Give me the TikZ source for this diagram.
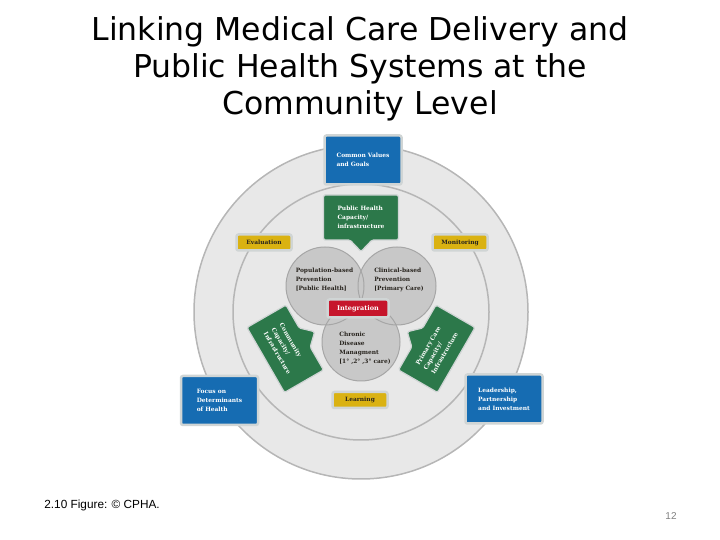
\documentclass[tikz,border=0pt]{standalone}
\usepackage{fontspec}
\setmainfont{DejaVu Serif}
\newfontfamily\titlefont{DejaVu Sans}
\newfontfamily\notefont{Liberation Sans}
\usetikzlibrary{positioning}

\definecolor{cphablue}{RGB}{22,108,178}
\definecolor{cphagreen}{RGB}{44,120,74}
\definecolor{cphayellow}{RGB}{218,178,18}
\definecolor{cphared}{RGB}{198,22,44}
\definecolor{diskgray}{RGB}{232,232,232}
\definecolor{ringgray}{RGB}{182,182,182}
\definecolor{venngray}{RGB}{200,200,200}
\definecolor{vennrim}{RGB}{166,166,166}
\definecolor{rimgray}{RGB}{208,213,213}
\definecolor{inkdark}{RGB}{40,36,30}

\tikzset{
 boxfont/.style={font=\fontsize{5.9}{9}\selectfont\bfseries},
 box/.style={boxfont, rounded corners=2pt, draw=rimgray, line width=2.5pt, align=left, inner sep=0pt},
 bluebox/.style={box, fill=cphablue, text=white, minimum width=77pt, minimum height=49pt},
 yellowbox/.style={box, fill=cphayellow, text=inkdark, minimum width=55pt, minimum height=16pt},
 venntext/.style={boxfont, text=inkdark, align=left, inner sep=0pt},
 tabtext/.style={boxfont, text=white, align=left, inner sep=0pt},
 pics/tab/.style={code={
  \filldraw[fill=cphagreen, draw=rimgray, line width=1.2pt, rounded corners=1.5pt]
   (-37.5,22.5) -- (37.5,22.5) -- (37.5,-22.5) -- (11,-22.5) -- (0,-34) -- (-11,-22.5) -- (-37.5,-22.5) -- cycle;
 }}
}

\begin{document}
\begin{tikzpicture}[x=1pt,y=1pt,thick]
 \useasboundingbox (0,0) rectangle (720,540);
 \node [font=\titlefont\fontsize{31.5}{37}\selectfont, anchor=base] (title1) at (360,499) {Linking Medical Care Delivery and};
 \node [font=\titlefont\fontsize{31.5}{37}\selectfont, below=37pt of title1.base, anchor=base] (title2) {Public Health Systems at the};
 \node [font=\titlefont\fontsize{31.5}{37}\selectfont, below=37pt of title2.base, anchor=base] (title3) {Community Level};

 \coordinate (hub) at (361,228);
 \coordinate (venn) at (361,235);
 \draw [ringgray, fill=diskgray, line width=1.5pt] (hub) circle [radius=167pt];
 \draw [ringgray, line width=1.5pt] (hub) circle [radius=128pt];

 \coordinate (popc) at (325,254);
 \coordinate (clinc) at (397,254);
 \coordinate (chronc) at (361,198);
 \foreach \c in {popc,clinc,chronc}
  \fill [venngray] (\c) circle [radius=39pt];
 \foreach \c in {popc,clinc,chronc}
  \draw [vennrim, line width=1pt] (\c) circle [radius=39pt];

 \pic at ([shift={(90:87.5)}]venn) {tab};
 \pic [rotate=120] at ([shift={(210:87.5)}]venn) {tab};
 \pic [rotate=-120] at ([shift={(330:87.5)}]venn) {tab};
 \node [tabtext] (phcap) at ([shift={(90:87.5)}]venn) {Public Health\\Capacity/\\infrastructure};
 \node [tabtext, rotate=-60] (comcap) at ([shift={(210:87.5)}]venn) {Community\\Capacity/\\Infrastructure};
 \node [tabtext, rotate=60] (pccap) at ([shift={(330:87.5)}]venn) {Primary Care\\Capacity/\\Infrastructure};

 \node [venntext] (pop) at (324.5,260.5) {Population-based\\Prevention\\{}[Public Health]};
 \node [venntext] (clin) at (399,260.5) {Clinical-based\\Prevention\\{}[Primary Care)};
 \node [venntext] (chron) at (365,191.5) {Chronic\\Disease\\Managment\\{}[1° ,2° ,3° care)};
 \node [box, fill=cphared, text=white, minimum width=61pt, minimum height=18pt, font=\fontsize{6.5}{9}\selectfont\bfseries] (integ) at (358,231.5) {Integration};

 \node [bluebox] (values) at (363,380) {Common Values\\and Goals};
 \node [bluebox] (focus) at (219.5,139.5) {Focus on\\Determinants\\of Health};
 \node [bluebox] (lead) at (504,141) {Leadership,\\Partnership\\and Investment};

 \node [yellowbox] (eval) at (264,297.5) {Evaluation};
 \node [yellowbox] (monit) at (460,297.5) {Monitoring};
 \node [yellowbox] (learn) at (360,140) {Learning};

 \node [font=\notefont\fontsize{11.8}{14}\selectfont, anchor=base west, inner sep=0pt] (credit) at (44,31) {2.10 Figure: © CPHA.};
 \node [font=\notefont\fontsize{10}{12}\selectfont, text=gray, anchor=base, inner sep=0pt] (pageno) at (671,20) {12};
\end{tikzpicture}
\end{document}
